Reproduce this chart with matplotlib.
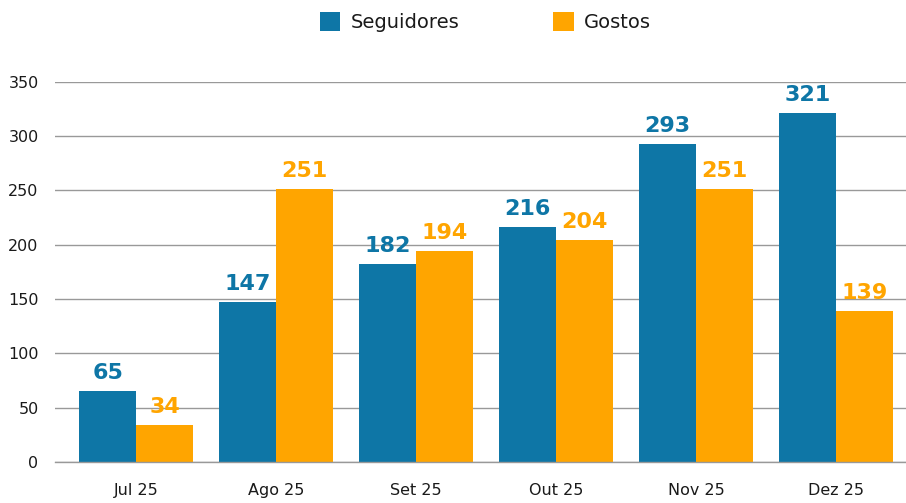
import matplotlib.pyplot as plt
import numpy as np

plt.rcParams['font.family'] = ['DejaVu Sans']

# data
meses = ["Jul 25", "Ago 25", "Set 25", "Out 25", "Nov 25", "Dez 25"]
seguidores = [65, 147, 182, 216, 293, 321]
gostos = [34, 251, 194, 204, 251, 139]

azul = "#0E76A6"
laranja = "#FFA500"
texto = "#1a1a1a"

fig = plt.figure(figsize=(9.06, 5.03), dpi=100)
ax = fig.add_axes([0.061, 0.082, 0.939, 0.755])

x = np.arange(len(meses))
w = 0.407
b1 = ax.bar(x - w / 2, seguidores, w, color=azul, label="Seguidores", zorder=2)
b2 = ax.bar(x + w / 2, gostos, w, color=laranja, label="Gostos", zorder=2)

# value labels above the bars
for bars, vals, cor in [(b1, seguidores, azul), (b2, gostos, laranja)]:
    for r, v in zip(bars, vals):
        ax.annotate(str(v), (r.get_x() + r.get_width() / 2, r.get_height()),
                    xytext=(0, 6), textcoords="offset points",
                    ha="center", va="bottom", fontsize=16, fontweight="bold",
                    color=cor)

ax.set_ylim(0, 350)
ax.set_xlim(-0.58, 5.5)
ax.set_yticks(range(0, 351, 50))
ax.set_xticks(x)
ax.set_xticklabels(meses)
ax.yaxis.grid(True, color="#999999", linewidth=1.0, zorder=0)
ax.tick_params(axis="both", length=0, labelsize=11.5, colors=texto)
ax.tick_params(axis="x", pad=15)
ax.tick_params(axis="y", pad=12)
for s in ["top", "right", "left"]:
    ax.spines[s].set_visible(False)
ax.spines["bottom"].set_color("#999999")
ax.spines["bottom"].set_linewidth(1.0)

fig.legend(handles=[b1, b2], loc="upper center", bbox_to_anchor=(0.536, 1.01),
           ncol=2, frameon=False, fontsize=14, handlelength=1.05,
           handleheight=1.05, columnspacing=4.8, handletextpad=0.55,
           labelcolor=texto)

fig.savefig("out.png", dpi=100)
